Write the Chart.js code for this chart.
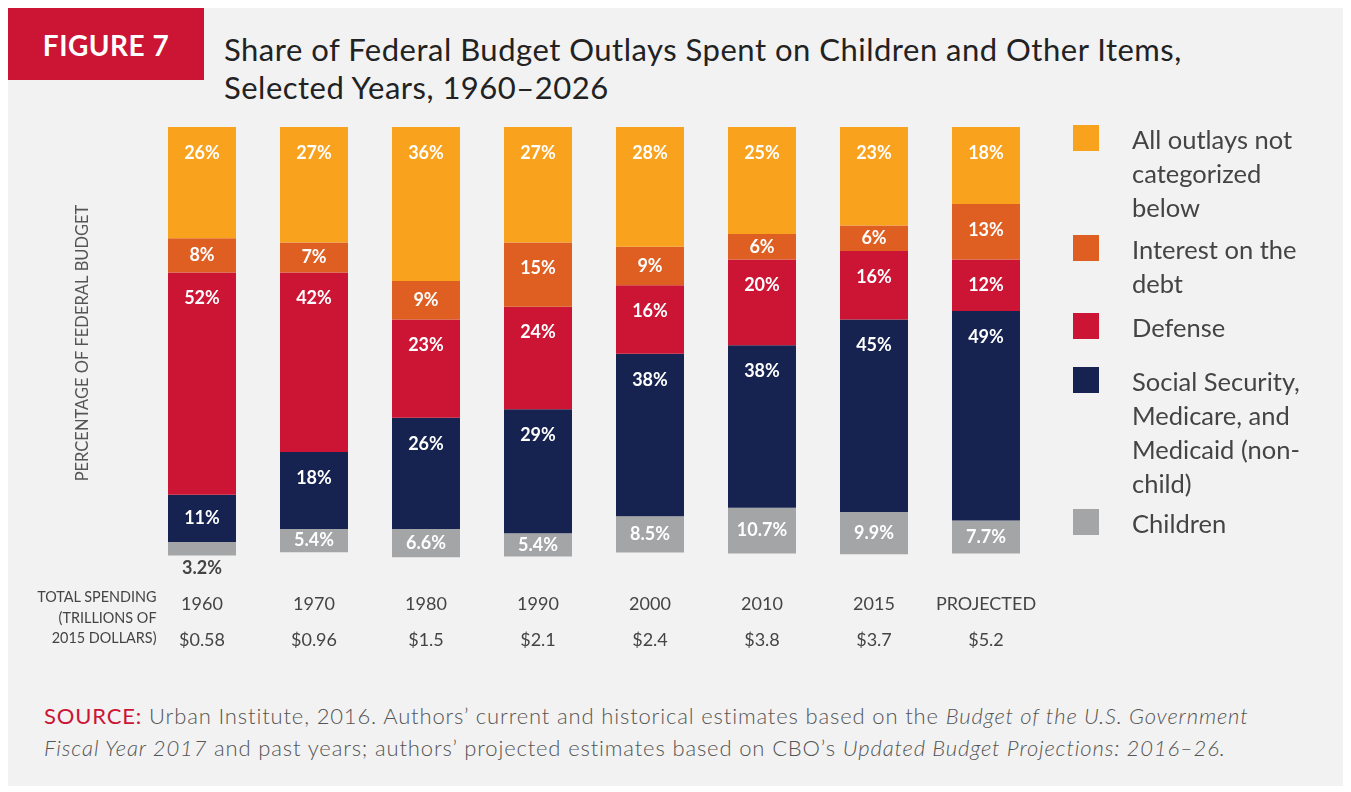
<!DOCTYPE html>
<html>
<head>
<meta charset="utf-8">
<script src="https://cdn.jsdelivr.net/npm/chart.js@4.4.1/dist/chart.umd.min.js"></script>
<style>
  body { margin: 0; background: #fff; font-family: Lato, "Open Sans", sans-serif; }
  #panel { position: absolute; left: 8px; top: 8px; width: 1335px; height: 778px; background: #f2f2f2; }
  #fig { position: absolute; left: 8px; top: 8px; width: 196px; height: 72px; background: #cc1435;
         color: #fff; font: bold 28px Lato, sans-serif; line-height: 74px; text-align: center; letter-spacing: 0.5px; }
  #title { position: absolute; left: 224px; top: 30px; font-size: 31px; letter-spacing: 0.5px; line-height: 38px; color: #222; }
  #wrap { position: absolute; left: 0; top: 0; }
  #spendNote { position: absolute; right: 1194px; top: 586px; text-align: right; color: #444;
               font: 16px/20.5px Lato, sans-serif; transform: scaleX(0.9); transform-origin: right top; }
  .leg { position: absolute; left: 1073px; }
  .sw { position: absolute; left: 0; width: 26px; height: 26px; }
  .lt { position: absolute; left: 59px; width: 240px; font-size: 25.5px; line-height: 34px; color: #444; }
  #source { position: absolute; left: 44px; top: 700px; font-size: 22px; letter-spacing: 0.85px; line-height: 32px; color: #555; font-weight: 300; white-space: nowrap; }
  #source b { color: #cc1435; font-weight: 400; }
</style>
</head>
<body>
<div id="panel"></div>
<div id="fig">FIGURE 7</div>
<div id="title">Share of Federal Budget Outlays Spent on Children and Other Items,<br>Selected Years, 1960–2026</div>
<div id="wrap"><canvas id="budgetChart" width="1351" height="700"></canvas></div>
<div id="spendNote">TOTAL SPENDING<br>(TRILLIONS OF<br>2015 DOLLARS)</div>
<div id="legend"></div>
<div id="source"><b>SOURCE:</b> Urban Institute, 2016. Authors’ current and historical estimates based on the <i>Budget of the U.S. Government<br>Fiscal Year 2017</i> and past years; authors’ projected estimates based on CBO’s <i>Updated Budget Projections: 2016–26.</i></div>

<script>
var years = ['1960', '1970', '1980', '1990', '2000', '2010', '2015', 'PROJECTED'];
var totalSpending = ['$0.58', '$0.96', '$1.5', '$2.1', '$2.4', '$3.8', '$3.7', '$5.2'];

var allOther = [26, 27, 36, 27, 28, 25, 23, 18];
var interest = [8, 7, 9, 15, 9, 6, 6, 13];
var defense = [52, 42, 23, 24, 16, 20, 16, 12];
var ssMedicare = [11, 18, 26, 29, 38, 38, 45, 49];
var children = [3.2, 5.4, 6.6, 5.4, 8.5, 10.7, 9.9, 7.7];

var series = [
  { name: 'All outlays not categorized below', data: allOther, color: '#f9a21e', top: 125, lines: ['All outlays not', 'categorized', 'below'] },
  { name: 'Interest on the debt', data: interest, color: '#df5f22', top: 235, lines: ['Interest on the', 'debt'] },
  { name: 'Defense', data: defense, color: '#cc1435', top: 313, lines: ['Defense'] },
  { name: 'Social Security, Medicare, and Medicaid (non-child)', data: ssMedicare, color: '#16224f', top: 367, lines: ['Social Security,', 'Medicare, and', 'Medicaid (non-', 'child)'] },
  { name: 'Children', data: children, color: '#a3a5a6', top: 509, lines: ['Children'], decimals: 1 }
];

// legend on the right
var legendHtml = '';
series.forEach(function(s) {
  legendHtml += '<div class="leg" style="top:' + s.top + 'px">' +
    '<div class="sw" style="background:' + s.color + '"></div>' +
    '<div class="lt" style="top:-3px">' + s.lines.join('<br>') + '</div></div>';
});
document.getElementById('legend').innerHTML = legendHtml;

var labels = [];
for (var i in years) {
  labels.push([years[i], totalSpending[i]]);
}

// percent labels inside each segment
var segmentLabels = {
  id: 'segmentLabels',
  afterDatasetsDraw: function(chart) {
    var ctx = chart.ctx;
    ctx.save();
    ctx.font = 'bold 18px Lato';
    ctx.textAlign = 'center';
    ctx.textBaseline = 'middle';
    chart.data.datasets.forEach(function(ds, di) {
      var meta = chart.getDatasetMeta(di);
      meta.data.forEach(function(bar, j) {
        var v = ds.data[j];
        var txt = (series[di].decimals ? v.toFixed(1) : v) + '%';
        var top = Math.min(bar.y, bar.base);
        var bottom = Math.max(bar.y, bar.base);
        if (bottom - top < 20) {
          ctx.fillStyle = '#444';
          ctx.fillText(txt, bar.x, bottom + 13);
        } else {
          ctx.fillStyle = '#fff';
          ctx.fillText(txt, bar.x, Math.min(top + 26, (top + bottom) / 2));
        }
      });
    });
    ctx.restore();
  }
};

var chartdata = {
  labels: labels,
  datasets: series.map(function(s) {
    return {
      label: s.name,
      data: s.data,
      backgroundColor: s.color,
      borderWidth: 0,
      barPercentage: 0.607,
      categoryPercentage: 1
    };
  })
};

var ctx = document.getElementById('budgetChart');

var barGraph = new Chart(ctx, {
  type: 'bar',
  data: chartdata,
  plugins: [segmentLabels],
  options: {
    responsive: false,
    animation: false,
    layout: { padding: { left: 69, right: 309, top: 127, bottom: 15 } },
    plugins: { legend: { display: false }, tooltip: { enabled: false } },
    scales: {
      x: {
        stacked: true,
        grid: { display: false, drawTicks: false },
        border: { display: false },
        ticks: {
          padding: 27,
          color: '#444',
          font: { family: 'Lato', size: 18, lineHeight: 2 }
        }
      },
      y: {
        stacked: true,
        reverse: true,
        min: 0,
        max: 101,
        grid: { display: false, drawTicks: false },
        border: { display: false },
        ticks: { display: false },
        afterFit: function(scale) { scale.width = 77; },
        title: {
          display: true,
          text: 'PERCENTAGE OF FEDERAL BUDGET',
          color: '#555',
          font: { family: 'Lato', size: 16.5, lineHeight: 1.2 },
          padding: 4
        }
      }
    }
  }
});
</script>
</body>
</html>
